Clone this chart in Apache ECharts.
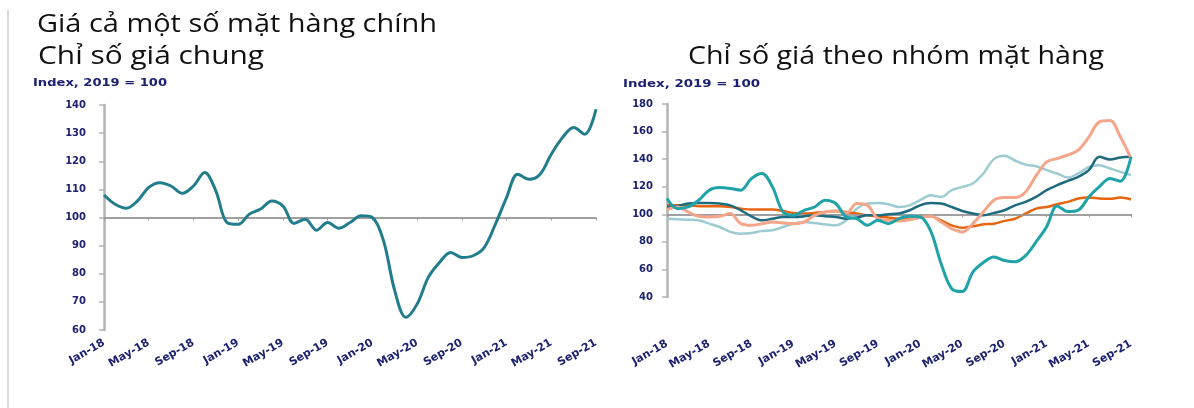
<!DOCTYPE html>
<html>
<head>
<meta charset="utf-8">
<script src="https://cdn.jsdelivr.net/npm/echarts@6/dist/echarts.min.js"></script>
<style>
html,body{margin:0;padding:0;background:#fff;}
#c{width:1194px;height:408px;}
</style>
</head>
<body>
<div id="c"></div>
<script>
// ---------- DATA ----------
const months = [
  'Jan-18','Feb-18','Mar-18','Apr-18','May-18','Jun-18','Jul-18','Aug-18','Sep-18','Oct-18','Nov-18','Dec-18',
  'Jan-19','Feb-19','Mar-19','Apr-19','May-19','Jun-19','Jul-19','Aug-19','Sep-19','Oct-19','Nov-19','Dec-19',
  'Jan-20','Feb-20','Mar-20','Apr-20','May-20','Jun-20','Jul-20','Aug-20','Sep-20','Oct-20','Nov-20','Dec-20',
  'Jan-21','Feb-21','Mar-21','Apr-21','May-21','Jun-21','Jul-21','Aug-21','Sep-21'
];

// Left: Chỉ số giá chung (Index, 2019 = 100)
const generalIndex = [
  108.0,104.7,103.3,105.9,110.7,112.4,111.2,108.6,111.2,116.0,109.5,98.2,
  97.6,101.2,103.0,105.9,104.1,97.9,99.4,95.5,98.2,96.2,98.2,100.6,
  100.0,91.7,74.0,64.5,69.2,78.7,84.0,87.6,85.8,86.4,89.3,97.6,
  107.1,115.4,113.6,115.4,122.5,128.4,132.0,129.6,138.5
];

// Right: Chỉ số giá theo nhóm mặt hàng (5 groups)
const groupBrightTeal = [
  111.4,104.1,105.3,110.2,117.5,119.4,118.7,117.5,125.9,129.6,119.9,101.7,
  99.3,102.9,105.3,110.2,107.8,98.1,96.8,92.0,95.6,93.2,96.8,98.5,
  98.1,88.0,64.0,46.0,44.0,58.0,65.0,69.0,66.5,65.5,70.0,80.0,
  91.0,106.0,102.0,103.0,112.6,120.0,126.0,124.0,141.7
];
const groupDarkTeal = [
  105.3,106.0,107.8,108.2,108.2,107.8,106.5,102.9,98.5,95.6,96.8,98.1,
  98.1,98.5,99.3,98.5,98.1,96.8,97.6,99.3,99.3,100.0,100.5,102.9,
  106.5,108.2,107.8,105.3,102.4,100.5,99.3,101.0,102.9,106.5,109.0,112.6,
  117.5,121.1,124.2,127.2,132.0,141.7,139.8,141.2,141.7
];
const groupLightTeal = [
  96.8,96.4,96.1,95.6,93.2,90.8,87.2,85.9,86.4,87.9,88.4,90.8,
  93.2,94.4,93.7,92.7,92.0,95.6,104.1,107.8,108.2,107.3,105.3,106.5,
  110.2,113.8,112.6,117.5,119.9,122.3,129.6,140.0,142.5,139.0,136.0,134.9,
  132.0,129.6,126.7,129.6,134.4,135.6,133.2,130.8,128.4
];
const groupSalmon = [
  103.4,105.3,101.7,98.5,98.1,98.5,100.5,93.2,92.0,93.2,94.4,93.7,
  93.2,94.4,99.3,101.7,102.4,101.0,107.8,106.5,96.8,95.6,95.2,96.1,
  97.6,98.5,94.4,89.6,87.2,93.2,101.7,110.2,112.1,112.1,116.2,128.0,
  138.0,140.5,143.0,146.5,156.0,167.0,168.0,156.0,140.5
];
const groupOrange = [
  106.5,106.5,106.5,105.8,105.8,105.8,105.3,104.1,103.4,103.4,103.4,102.4,
  101.0,100.5,101.0,101.7,102.4,101.7,100.5,99.3,98.5,97.6,96.8,96.8,
  98.5,98.5,95.6,92.0,90.3,91.3,92.7,93.2,95.2,96.8,100.5,104.1,
  105.3,107.3,109.0,111.4,112.1,111.4,111.2,112.1,110.7
];

const leftTicks = {min: 60, max: 140, interval: 10};
const rightTicks = {min: 40, max: 180, interval: 20};
const baseValue = 100;

const mainTitle = 'Giá cả một số mặt hàng chính';
const leftTitle = 'Chỉ số giá chung';
const rightTitle = 'Chỉ số giá theo nhóm mặt hàng';
const unitLabel = 'Index, 2019 = 100';

// ---------- LAYOUT / STYLE ----------
const navy = '#1c2270';
const axisGray = '#b4b4b4';
const baseGray = '#9a9a9a';

function measure(text, font) {
  const ctx = document.createElement('canvas').getContext('2d');
  ctx.font = font;
  return ctx.measureText(text).width;
}
function fitText(text, font, x, y, targetW, fill) {
  const w = measure(text, font);
  return {
    type: 'text', x: x, y: y, scaleX: targetW / w,
    style: {text: text, font: font, fill: fill, textVerticalAlign: 'middle'}
  };
}

const titleFont = '25px "Open Sans"';
const unitFont = 'bold 10px "DejaVu Sans"';

const plotGrids = [
  {left: 104, top: 105, width: 492, height: 225},
  {left: 667, top: 104, width: 464, height: 193}
];
const plotTicks = [leftTicks, rightTicks];
// helper grids whose bottom edge sits on the 100 level (base axis line with ticks)
const baseGrids = plotGrids.map((g, i) => {
  const t = plotTicks[i];
  return {left: g.left, top: g.top, width: g.width,
          height: (t.max - baseValue) / (t.max - t.min) * g.height};
});
const allGrids = plotGrids.concat(baseGrids);

function yAxisCfg(gi, t) {
  return {
    type: 'value', gridIndex: gi, min: t.min, max: t.max, interval: t.interval,
    axisLine: {show: true, lineStyle: {color: axisGray, width: 2.5}},
    axisTick: {show: true, length: 5, lineStyle: {color: axisGray, width: 1.5}},
    splitLine: {show: false},
    axisLabel: {color: navy, fontFamily: 'DejaVu Sans', fontWeight: 'bold', fontSize: 10,
      margin: gi === 0 ? 18 : 14, padding: [8, 0, 0, 0]}
  };
}
function hiddenYAxis(gi) {
  return {type: 'value', gridIndex: gi, min: 0, max: 1,
    axisLine: {show: false}, axisTick: {show: false}, axisLabel: {show: false}, splitLine: {show: false}};
}
function labelXAxis(gi, margin) {
  return {
    type: 'category', gridIndex: gi, data: months, boundaryGap: false, position: 'bottom',
    axisLine: {show: false}, axisTick: {show: false},
    axisLabel: {interval: 3, rotate: 30, margin: margin, color: navy,
      fontFamily: 'DejaVu Sans', fontWeight: 'bold', fontSize: 11}
  };
}
function baseXAxis(gi) {
  return {
    type: 'category', gridIndex: gi, data: months, boundaryGap: false, position: 'bottom',
    axisLine: {show: true, onZero: false, lineStyle: {color: baseGray, width: 1.5}},
    axisTick: {show: true, length: 3, interval: 3, lineStyle: {color: baseGray}},
    axisLabel: {show: false}, splitLine: {show: false}
  };
}
function baseLine() {
  return {silent: true, symbol: 'none', label: {show: false},
    lineStyle: {color: baseGray, width: 1.5, type: 'solid'},
    data: [{yAxis: baseValue}]};
}
function lineSeries(name, data, xi, yi, color, width, z, withBase) {
  const s = {
    name: name, type: 'line', data: data, xAxisIndex: xi, yAxisIndex: yi,
    smooth: 0.35, showSymbol: false, z: z,
    lineStyle: {color: color, width: width}
  };
  if (withBase) s.markLine = baseLine();
  return s;
}
function anchorSeries(xi, yi) {
  return {type: 'line', data: months.map(() => null), xAxisIndex: xi, yAxisIndex: yi,
    showSymbol: false, silent: true, lineStyle: {opacity: 0}};
}

const chart = echarts.init(document.getElementById('c'), null, {renderer: 'canvas'});
chart.setOption({
  backgroundColor: '#fff',
  animation: false,
  grid: allGrids.map(g => Object.assign({containLabel: false}, g)),
  xAxis: [
    labelXAxis(0, 12),
    labelXAxis(1, 46),
    baseXAxis(2),
    baseXAxis(3)
  ],
  yAxis: [yAxisCfg(0, leftTicks), yAxisCfg(1, rightTicks), hiddenYAxis(2), hiddenYAxis(3)],
  series: [
    anchorSeries(2, 2),
    anchorSeries(3, 3),
    lineSeries('Chỉ số giá chung', generalIndex, 0, 0, '#217c8c', 3, 5, true),
    lineSeries('Nhóm 3', groupLightTeal, 1, 1, '#9ccbd2', 2.5, 3, true),
    lineSeries('Nhóm 5', groupOrange, 1, 1, '#e8650f', 2.5, 4),
    lineSeries('Nhóm 2', groupDarkTeal, 1, 1, '#1e6b7f', 2.5, 5),
    lineSeries('Nhóm 4', groupSalmon, 1, 1, '#f4a58a', 3, 6),
    lineSeries('Nhóm 1', groupBrightTeal, 1, 1, '#1fa3a8', 3, 7)
  ],
  graphic: [
    {type: 'line', shape: {x1: 8, y1: 10, x2: 8, y2: 408}, style: {stroke: '#cfcfcf', lineWidth: 1.5}},
    fitText(mainTitle, titleFont, 37, 25, 400, '#111'),
    fitText(leftTitle, titleFont, 38, 57, 226, '#111'),
    fitText(rightTitle, titleFont, 688, 57, 416, '#111'),
    fitText(unitLabel, unitFont, 33, 83, 134, navy),
    fitText(unitLabel, unitFont, 623, 84, 137, navy)
  ]
});
</script>
</body>
</html>
